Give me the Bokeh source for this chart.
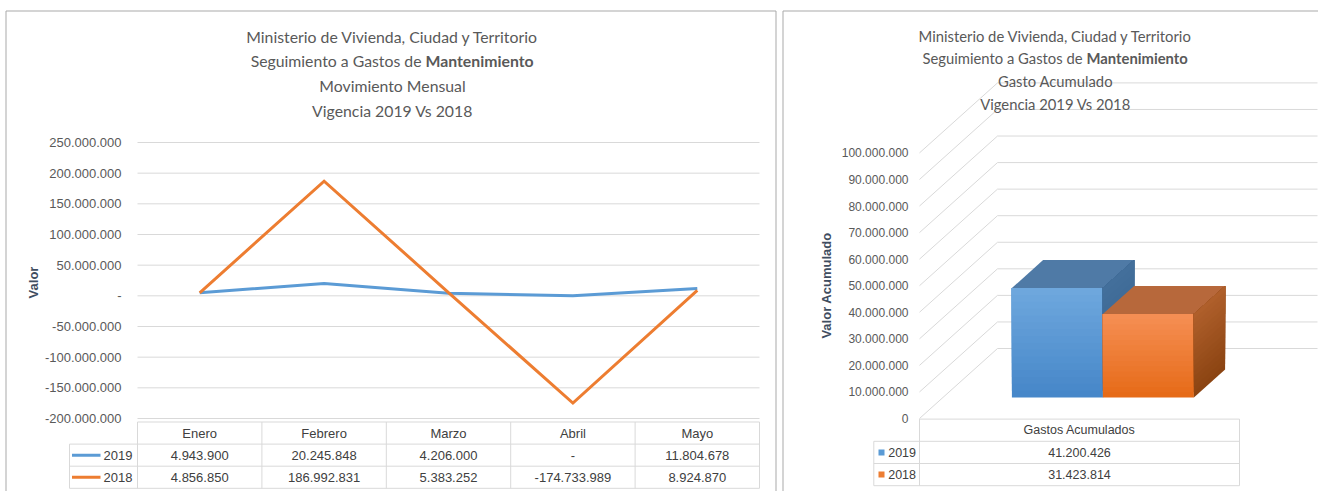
import math
from bokeh.plotting import figure
from bokeh.layouts import row
from bokeh.models import Range1d, FixedTicker, CustomJSTickFormatter, Label
from bokeh.core.properties import value
from bokeh.embed import file_html
from bokeh.resources import INLINE

# ---------------- data ----------------
meses = ["Enero", "Febrero", "Marzo", "Abril", "Mayo"]
serie_nombres = ["2019", "2018"]
valores_2019 = [4943900, 20245848, 4206000, 0, 11804678]
valores_2018 = [4856850, 186992831, 5383252, -174733989, 8924870]
ticks_mensual = [-200000000, -150000000, -100000000, -50000000, 0,
                 50000000, 100000000, 150000000, 200000000, 250000000]

categoria_acum = ["Gastos Acumulados"]
acumulado_2019 = [41200426]
acumulado_2018 = [31423814]
ticks_acum = [0, 10000000, 20000000, 30000000, 40000000, 50000000,
              60000000, 70000000, 80000000, 90000000, 100000000]

titulo_l1 = "Ministerio de Vivienda, Ciudad y Territorio"
titulo_l2a = "Seguimiento a Gastos de"
titulo_l2b = "Mantenimiento"
titulo_izq_l3 = "Movimiento Mensual"
titulo_der_l3 = "Gasto Acumulado"
titulo_l4 = "Vigencia 2019 Vs 2018"
eje_izq = "Valor"
eje_der = "Valor Acumulado"

# ---------------- styles ----------------
COL_2019 = "#5b9bd5"
COL_2018 = "#ed7d31"
GRID = "#d9d9d9"
TXT = "#595959"
TBL_TXT = "#404040"
AXT = "#3f4d5f"
PANEL = "#a9a9a9"
TITLE_FONT = "Lato"
NUM_FONT = "Liberation Sans"
H = 491


def miles(v, cero="-"):
    if v == 0:
        return cero
    s = f"{abs(v):,.0f}".replace(",", ".")
    return ("-" if v < 0 else "") + s


JS_FMT = r'''
if (tick == 0) { return ZERO; }
var s = Math.round(Math.abs(tick)).toString().replace(/\B(?=(\d{3})+(?!\d))/g, ".");
return (tick < 0 ? "-" : "") + s;
'''


def fmt_js(zero):
    return CustomJSTickFormatter(code=JS_FMT.replace("ZERO", '"%s"' % zero))


def mix(c1, c2, t):
    a = [int(c1[i:i + 2], 16) for i in (1, 3, 5)]
    b = [int(c2[i:i + 2], 16) for i in (1, 3, 5)]
    return "#%02x%02x%02x" % tuple(round(a[k] + (b[k] - a[k]) * t) for k in range(3))


def base_fig(width, x_range, y_range, tbl_range):
    p = figure(width=width, height=H, x_range=x_range, y_range=y_range,
               extra_y_ranges={"tbl": tbl_range},
               output_backend="svg", toolbar_location=None, title=None,
               x_axis_location=None, y_axis_location="left", min_border=0)
    p.background_fill_color = "white"
    p.border_fill_color = "white"
    p.outline_line_color = None
    p.xgrid.visible = False
    p.ygrid.visible = False
    return p


def title_label(p, sx, sy, text, size, bold=False, align="center"):
    p.add_layout(Label(x=sx, y=sy, x_units="screen", y_units="screen", text=text,
                       text_align=align, text_baseline="middle", text_font=TITLE_FONT,
                       text_font_size=size, text_font_style="bold" if bold else "normal",
                       text_color=TXT))


def axis_label(p, sx, sy, text):
    p.add_layout(Label(x=sx, y=sy, x_units="screen", y_units="screen", text=text,
                       angle=math.pi / 2, text_align="center", text_baseline="middle",
                       text_font=NUM_FONT, text_font_size="13px", text_font_style="bold",
                       text_color=AXT))


def style_yaxis(p, ticks, zero, size, standoff):
    ax = p.yaxis[0]
    ax.fixed_location = 0
    ax.ticker = FixedTicker(ticks=ticks)
    ax.formatter = fmt_js(zero)
    ax.axis_line_color = None
    ax.major_tick_line_color = None
    ax.minor_tick_line_color = None
    ax.major_tick_out = 0
    ax.major_tick_in = 0
    ax.major_label_text_font = NUM_FONT
    ax.major_label_text_font_size = size
    ax.major_label_text_color = TXT
    ax.major_label_standoff = standoff


def tabla(p, cols, filas, lbl_left, lbl_text_x, key, key_x, size):
    n = len(cols)
    kw = dict(y_range_name="tbl")
    hy = [0, 1, 2, 3]
    p.segment(x0=[0, lbl_left, lbl_left, lbl_left], y0=hy, x1=[n] * 4, y1=hy,
              line_color=GRID, line_width=1, **kw)
    vx = [lbl_left] + list(range(n + 1))
    p.segment(x0=vx, y0=[1] + [0] * (n + 1), x1=vx, y1=[3] * (n + 2),
              line_color=GRID, line_width=1, **kw)
    centers = [i + 0.5 for i in range(n)]
    txt = dict(text_baseline="middle", text_font=value(NUM_FONT), text_font_size=size,
               text_color=TBL_TXT, **kw)
    p.text(x=centers, y=[0.5] * n, text=cols, text_align="center", **txt)
    for r, (nombre, color, vals) in enumerate(filas, start=1):
        p.text(x=centers, y=[r + 0.5] * n, text=[miles(v) for v in vals],
               text_align="center", **txt)
        p.text(x=[lbl_text_x], y=[r + 0.5], text=[nombre], text_align="right", **txt)
        if key == "line":
            p.segment(x0=[key_x[0]], y0=[r + 0.5], x1=[key_x[1]], y1=[r + 0.5],
                      line_color=color, line_width=3, **kw)
        else:
            p.scatter(x=[key_x], y=[r + 0.5], marker="square", size=6,
                      fill_color=color, line_color=None, **kw)


# =============== LEFT PANEL (page x 0..778) ===============
L_W = 778
LX0, LCW = 137.0, 124.4            # page x of first column, column width
L_K = 276 / 450e6                  # px per value unit
L_ROW0, L_ROWH = 421.5, 22.1       # table top and row height (page px)


def lx(px):
    return (px - LX0) / LCW


def lv(py):
    return ticks_mensual[-1] - (py - 142) / L_K


def lr(py):
    return (py - L_ROW0) / L_ROWH


L = base_fig(L_W, Range1d(lx(0), lx(L_W)), Range1d(lv(H), lv(0)), Range1d(lr(H), lr(0)))
style_yaxis(L, ticks_mensual, "-", "13px", 16)

# panel border
L.segment(x0=[lx(5.5), lx(5.5), lx(775.5)], y0=[lr(10.5), lr(10.5), lr(10.5)],
          x1=[lx(5.5), lx(775.5), lx(775.5)], y1=[lr(H + 2), lr(10.5), lr(H + 2)],
          line_color=PANEL, line_width=1, y_range_name="tbl")
# gridlines
n = len(meses)
L.segment(x0=[0] * len(ticks_mensual), y0=ticks_mensual, x1=[n] * len(ticks_mensual),
          y1=ticks_mensual, line_color=GRID, line_width=1)
xs = [i + 0.5 for i in range(n)]
L.line(x=xs, y=valores_2019, line_color=COL_2019, line_width=3, line_join="round")
L.line(x=xs, y=valores_2018, line_color=COL_2018, line_width=3, line_join="miter")

tabla(L, meses,
      [(serie_nombres[0], COL_2019, valores_2019), (serie_nombres[1], COL_2018, valores_2018)],
      lbl_left=lx(69), lbl_text_x=lx(132), key="line", key_x=(lx(71.5), lx(100)), size="13px")

TL = "15.8px"
title_label(L, 392, H - 36, titulo_l1, TL)
title_label(L, 421, H - 60, titulo_l2a, TL, align="right")
title_label(L, 425, H - 60, titulo_l2b, TL, bold=True, align="left")
title_label(L, 392, H - 85, titulo_izq_l3, TL)
title_label(L, 392, H - 110, titulo_l4, TL)
axis_label(L, 33, H - 282, eje_izq)

# =============== RIGHT PANEL (page x 778..1318) ===============
R_W = 540
RO = 778
RX0, RCW = 919.0, 320.0
R_K = 265.6 / 100e6
R_ROW0, R_ROWH = 418.6, 22.2


def rx(px):
    return (px - RX0) / RCW


def rv(py):
    return (418 - py) / R_K


def rr(py):
    return (py - R_ROW0) / R_ROWH


R = base_fig(R_W, Range1d(rx(RO), rx(RO + R_W)), Range1d(rv(H), rv(0)), Range1d(rr(H), rr(0)))
style_yaxis(R, ticks_acum, "0", "12px", 11)

R.segment(x0=[rx(782.5), rx(782.5)], y0=[rr(10.5), rr(10.5)],
          x1=[rx(782.5), rx(1320)], y1=[rr(H + 2), rr(10.5)],
          line_color=PANEL, line_width=1, y_range_name="tbl")

DX = 78 / RCW          # depth offset in category units
DY = 70 / R_K          # depth offset in value units
nt = len(ticks_acum)
R.segment(x0=[0] * nt, y0=ticks_acum, x1=[DX] * nt, y1=[t + DY for t in ticks_acum],
          line_color=GRID, line_width=1)
R.segment(x0=[DX] * nt, y0=[t + DY for t in ticks_acum], x1=[DX + 1] * nt,
          y1=[t + DY for t in ticks_acum], line_color=GRID, line_width=1)

# 3D bars (gradient faces: each strip runs to the top, painted bottom-up)
W = 91 / RCW
D0, D1 = 0.3, 0.7
NSTRIP = 16
acum_vals = [acumulado_2019[0], acumulado_2018[0]]
caras = [
    # front top, front bottom, top face, side top, side bottom
    ("#6fa8de", "#4586c8", "#4f7aa6", "#436f9b", "#35608c"),
    ("#f58f55", "#e66a16", "#b7683b", "#b0602c", "#8a4311"),
]
for i, v in enumerate(acum_vals):
    xl = 0.5 - W + i * W
    xr = xl + W
    ft, fb, tc, st, sb = caras[i]
    for s in range(NSTRIP):
        ya = v * s / NSTRIP
        c = mix(fb, ft, (s + 0.5) / NSTRIP)
        R.quad(left=[xl + D0 * DX], right=[xr + D0 * DX], bottom=[ya + D0 * DY],
               top=[v + D0 * DY], fill_color=c, line_color=None)
    R.patch(x=[xl + D0 * DX, xr + D0 * DX, xr + D1 * DX, xl + D1 * DX],
            y=[v + D0 * DY, v + D0 * DY, v + D1 * DY, v + D1 * DY],
            fill_color=tc, line_color=None)
    for s in range(NSTRIP):
        ya = v * s / NSTRIP
        c = mix(sb, st, (s + 0.5) / NSTRIP)
        R.patch(x=[xr + D0 * DX, xr + D1 * DX, xr + D1 * DX, xr + D0 * DX],
                y=[ya + D0 * DY, ya + D1 * DY, v + D1 * DY, v + D0 * DY],
                fill_color=c, line_color=None)

tabla(R, categoria_acum,
      [(serie_nombres[0], COL_2019, acumulado_2019), (serie_nombres[1], COL_2018, acumulado_2018)],
      lbl_left=rx(873.3), lbl_text_x=rx(915.5), key="square", key_x=rx(881), size="12.5px")

TR = "14.8px"
title_label(R, 1055 - RO, H - 35, titulo_l1, TR)
title_label(R, 1082 - RO, H - 57, titulo_l2a, TR, align="right")
title_label(R, 1086 - RO, H - 57, titulo_l2b, TR, bold=True, align="left")
title_label(R, 1055 - RO, H - 80, titulo_der_l3, TR)
title_label(R, 1055 - RO, H - 103, titulo_l4, TR)
axis_label(R, 826 - RO, H - 285, eje_der)

page = row(L, R, spacing=0)
open("out.html", "w").write(file_html(page, INLINE))
